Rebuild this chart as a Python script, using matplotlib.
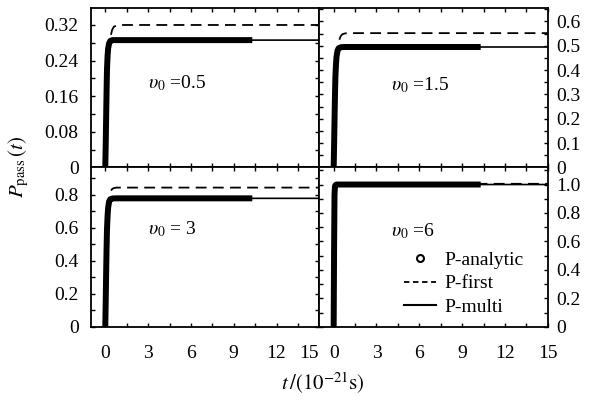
import matplotlib
matplotlib.use("Agg")
import matplotlib.pyplot as plt
from matplotlib.lines import Line2D
from matplotlib.ticker import FixedLocator, MultipleLocator
from matplotlib.transforms import ScaledTranslation

plt.rcParams['font.family'] = ['Liberation Serif', 'DejaVu Serif']
plt.rcParams['mathtext.fontset'] = 'stix'

# panel labels (initial velocity)
v0_labels = [r'$\upsilon_0$ =0.5', r'$\upsilon_0$ =1.5', r'$\upsilon_0$ = 3', r'$\upsilon_0$ =6']

# time axis, units of 1e-21 s
t_analytic = [0, 0.03, 0.06, 0.09, 0.12, 0.16, 0.2, 0.27, 0.35, 0.5, 0.8, 10.3]
t_multi = [0, 0.03, 0.06, 0.09, 0.12, 0.16, 0.2, 0.27, 0.35, 0.5, 0.8, 15]
t_first = [0.4, 0.48, 0.6, 0.8, 1.1, 15]

# v0 = 0.5
an_05 = [0, 0.05, 0.11, 0.17, 0.22, 0.25, 0.267, 0.279, 0.284, 0.286, 0.286, 0.286]
fi_05 = [0.298, 0.309, 0.316, 0.319, 0.320, 0.320]
# v0 = 1.5
an_15 = [0, 0.09, 0.19, 0.29, 0.37, 0.42, 0.455, 0.48, 0.49, 0.494, 0.495, 0.495]
fi_15 = [0.525, 0.538, 0.547, 0.551, 0.552, 0.552]
# v0 = 3
an_3 = [0, 0.15, 0.32, 0.47, 0.59, 0.67, 0.72, 0.76, 0.772, 0.777, 0.778, 0.778]
fi_3 = [0.825, 0.834, 0.840, 0.843, 0.843, 0.843]
# v0 = 6
an_6 = [0, 0.55, 0.93, 0.985, 0.995, 0.998, 1.0, 1.0, 1.0, 1.0, 1.0, 1.0]
fi_6 = [1.003, 1.004, 1.005, 1.005, 1.005, 1.005]

analytic = [an_05, an_15, an_3, an_6]
first = [fi_05, fi_15, fi_3, fi_6]

# y ticks of each panel
yticks = [[0, 0.08, 0.16, 0.24, 0.32], [0, 0.1, 0.2, 0.3, 0.4, 0.5, 0.6],
          [0, 0.2, 0.4, 0.6, 0.8], [0, 0.2, 0.4, 0.6, 0.8, 1.0]]
ylabels = [['0', '0.08', '0.16', '0.24', '0.32'], ['0', '0.1', '0.2', '0.3', '0.4', '0.5', '0.6'],
           ['0', '0.2', '0.4', '0.6', '0.8'], ['0', '0.2', '0.4', '0.6', '0.8', '1.0']]
ytops = [0.358, 0.655, 0.965, 1.12]
yminor = [0.04, 0.05, 0.1, 0.1]
xticks = [0, 3, 6, 9, 12, 15]
text_pos = [(3.0, 0.19), (4.0, 0.34), (3.0, 0.59), (4.0, 0.67)]

fig, axes = plt.subplots(2, 2, figsize=(5.89, 4.03), dpi=100)
plt.subplots_adjust(left=0.1545, right=0.930, top=0.980, bottom=0.189, wspace=0, hspace=0)

for i, ax in enumerate(axes.flat):
	ax.plot(t_first, first[i], color='k', lw=1.3, ls=(0, (6, 3.5)))
	ax.plot(t_multi, analytic[i], color='k', lw=1.2)
	ax.plot(t_analytic, analytic[i], color='k', lw=4.3, solid_capstyle='butt')
	ax.set_xlim(-1, 15)
	ax.set_ylim(0, ytops[i])
	ax.xaxis.set_major_locator(FixedLocator(xticks))
	ax.xaxis.set_minor_locator(MultipleLocator(1.5))
	ax.yaxis.set_major_locator(FixedLocator(yticks[i]))
	ax.yaxis.set_minor_locator(MultipleLocator(yminor[i]))
	ax.tick_params(which='both', direction='in', top=True, right=True, length=3, width=1, labelsize=14)
	for s in ax.spines.values():
		s.set_linewidth(1.3)
	ax.text(text_pos[i][0], text_pos[i][1], v0_labels[i], fontsize=14, va='center')
	if i % 2 == 0:
		ax.set_yticklabels(ylabels[i])
		ax.tick_params(axis='y', pad=9)
	else:
		ax.yaxis.tick_right()
		ax.tick_params(axis='y', which='both', left=True, direction='in')
		ax.set_yticklabels(ylabels[i])
		ax.tick_params(axis='y', pad=6)
	if i < 2:
		ax.set_xticklabels([])
	else:
		ax.set_xticklabels([str(x) for x in xticks])
		ax.tick_params(axis='x', pad=13)

# shift the crowded "15" of the lower-left panel
fig.canvas.draw()
lbl = axes[1, 0].get_xticklabels()[-1]
lbl.set_transform(lbl.get_transform() + ScaledTranslation(-0.1, 0, fig.dpi_scale_trans))

handles = [Line2D([], [], ls='none', marker='o', mfc='white', mec='k', ms=5, mew=1.5),
           Line2D([], [], color='k', lw=1.3, ls=(0, (3, 2))),
           Line2D([], [], color='k', lw=1.5)]
axes[1, 1].legend(handles, ['P-analytic', 'P-first', 'P-multi'], loc='upper left',
                  bbox_to_anchor=(0.33, 0.535), frameon=False, fontsize=14, borderpad=0,
                  handlelength=1.6, handletextpad=0.45, labelspacing=0.3)

fig.text(0.032, 1 - 167 / 403, r'$P_{\mathrm{pass}}\,(t)$', rotation=90, fontsize=15, ha='center', va='center')
fig.text(323 / 589, 1 - 383 / 403, r'$t\,/(10^{-21}\mathrm{s})$', fontsize=15, ha='center', va='center')

plt.savefig('out.png', dpi=100)
